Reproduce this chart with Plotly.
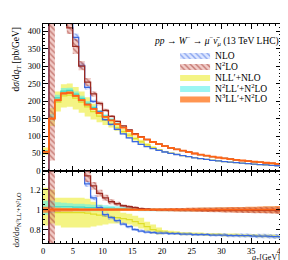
import plotly.graph_objects as go
from plotly.subplots import make_subplots

# ---------------- data (bins of 1 GeV in q_T) ----------------
QT_EDGES = list(range(0, 41))

# reference prediction N3LL'+N2LO, absolute [pb/GeV]
N3LL_N2LO = [55, 150, 203, 222, 224, 215, 203, 190, 178, 166, 155, 145, 134, 124, 114, 105, 97, 90, 83, 77,
             71, 66, 62, 58, 54, 50, 47, 44, 41, 38.5, 36, 34, 32, 30, 28, 26.5, 25, 23.5, 22, 20.5]
N3LL_N2LO_LO = [0.97, 0.975, 0.98, 0.982, 0.983, 0.984, 0.985, 0.985, 0.986, 0.986, 0.986, 0.986, 0.986, 0.986,
                0.986, 0.986, 0.986, 0.986, 0.986, 0.985, 0.985, 0.984, 0.983, 0.982, 0.981, 0.98, 0.979, 0.978,
                0.977, 0.976, 0.975, 0.974, 0.973, 0.972, 0.97, 0.969, 0.968, 0.966, 0.965, 0.963]
N3LL_N2LO_HI = [1.03, 1.025, 1.02, 1.018, 1.017, 1.016, 1.015, 1.015, 1.014, 1.014, 1.014, 1.014, 1.014, 1.014,
                1.014, 1.014, 1.014, 1.014, 1.014, 1.015, 1.015, 1.016, 1.017, 1.018, 1.019, 1.02, 1.021, 1.022,
                1.023, 1.024, 1.025, 1.026, 1.027, 1.028, 1.03, 1.031, 1.032, 1.034, 1.035, 1.037]

# other predictions, as ratio to N3LL'+N2LO
NLO_R = [-3.0, 6.0, 3.5, 2.4, 2.0, 1.78, 1.49, 1.26, 1.12, 1.02, 0.95, 0.92, 0.89, 0.855, 0.83, 0.80, 0.785,
         0.775, 0.77, 0.765, 0.765, 0.76, 0.76, 0.755, 0.755, 0.75, 0.75, 0.75, 0.745, 0.745, 0.745, 0.74, 0.74,
         0.74, 0.74, 0.735, 0.735, 0.735, 0.73, 0.73]
NLO_LO = [-3.5, 5.5, 3.3, 2.3, 1.93, 1.73, 1.45, 1.23, 1.095, 0.998, 0.93, 0.90, 0.872, 0.838, 0.813, 0.785,
          0.77, 0.76, 0.755, 0.75, 0.75, 0.745, 0.745, 0.74, 0.74, 0.735, 0.735, 0.735, 0.73, 0.73, 0.728, 0.724,
          0.722, 0.72, 0.72, 0.715, 0.713, 0.712, 0.707, 0.705]
NLO_HI = [-2.5, 6.5, 3.7, 2.5, 2.07, 1.83, 1.53, 1.29, 1.145, 1.042, 0.97, 0.94, 0.908, 0.872, 0.847, 0.815,
          0.80, 0.79, 0.785, 0.78, 0.78, 0.775, 0.775, 0.77, 0.77, 0.765, 0.765, 0.765, 0.76, 0.76, 0.762, 0.756,
          0.758, 0.76, 0.76, 0.755, 0.757, 0.758, 0.753, 0.755]

N2LO_R = [-2.0, 4.5, 3.4, 2.2, 1.83, 1.66, 1.48, 1.34, 1.24, 1.165, 1.12, 1.08, 1.06, 1.04, 1.03, 1.02, 1.01,
          1.005, 1.0, 1.0, 1.0, 1.0, 1.0, 1.0, 1.0, 1.0, 0.998, 0.998, 0.997, 0.997, 0.996, 0.996, 0.995, 0.995,
          0.995, 0.994, 0.994, 0.993, 0.993, 0.992]
N2LO_LO = [-2.5, 0.2, 3.0, 2.05, 1.75, 1.56, 1.42, 1.28, 1.20, 1.13, 1.09, 1.055, 1.04, 1.025, 1.015, 1.005,
           0.997, 0.992, 0.988, 0.987, 0.986, 0.985, 0.984, 0.983, 0.982, 0.981, 0.978, 0.977, 0.975, 0.974,
           0.972, 0.971, 0.969, 0.968, 0.967, 0.965, 0.964, 0.962, 0.961, 0.96]
N2LO_HI = [-1.5, 9.0, 3.8, 2.35, 1.92, 1.76, 1.55, 1.40, 1.28, 1.20, 1.15, 1.105, 1.08, 1.055, 1.045, 1.035,
           1.023, 1.018, 1.012, 1.013, 1.014, 1.015, 1.016, 1.017, 1.018, 1.019, 1.018, 1.019, 1.019, 1.02, 1.02,
           1.021, 1.021, 1.022, 1.023, 1.023, 1.024, 1.024, 1.025, 1.025]

NLL_NLO_R = [0.99, 1.0, 0.97, 0.97, 0.97, 0.97, 0.97, 0.965, 0.955, 0.945, 0.935, 0.93, 0.92, 0.91, 0.9, 0.88,
             0.86, 0.83, 0.8, 0.785, 0.775, 0.77, 0.765, 0.76, 0.76, 0.755, 0.755, 0.75, 0.75, 0.75, 0.745, 0.745,
             0.745, 0.74, 0.74, 0.74, 0.735, 0.735, 0.735, 0.73]
NLL_NLO_LO = [0.84, 0.86, 0.84, 0.82, 0.82, 0.82, 0.82, 0.82, 0.83, 0.84, 0.85, 0.86, 0.86, 0.86, 0.85, 0.83,
              0.81, 0.78, 0.76, 0.75, 0.755, 0.752, 0.748, 0.744, 0.744, 0.74, 0.74, 0.735, 0.735, 0.735, 0.73,
              0.73, 0.73, 0.725, 0.725, 0.725, 0.72, 0.72, 0.72, 0.715]
NLL_NLO_HI = [1.22, 1.2, 1.12, 1.12, 1.12, 1.12, 1.12, 1.11, 1.08, 1.05, 1.02, 1.0, 0.99, 0.97, 0.96, 0.94,
              0.92, 0.88, 0.85, 0.82, 0.795, 0.788, 0.782, 0.776, 0.776, 0.77, 0.77, 0.765, 0.765, 0.765, 0.76,
              0.76, 0.76, 0.755, 0.755, 0.755, 0.75, 0.75, 0.75, 0.745]

N2LL_N2LO_R = [1.02, 1.03, 1.03, 1.03, 1.03, 1.025, 1.025, 1.02, 1.02, 1.02, 1.015, 1.015, 1.01, 1.01, 1.01,
               1.005, 1.0, 1.0, 1.0, 1.0, 1.0, 1.0, 1.0, 1.0, 1.0, 1.0, 1.0, 1.0, 1.0, 1.0, 1.0, 1.0, 1.0, 1.0,
               1.0, 1.0, 1.0, 1.0, 1.0, 1.0]
N2LL_N2LO_LO = [0.95, 0.97, 0.98, 0.985, 0.985, 0.985, 0.985, 0.985, 0.985, 0.985, 0.985, 0.99, 0.99, 0.99,
                0.99, 0.99, 0.985, 0.985, 0.985, 0.985, 0.985, 0.985, 0.985, 0.983, 0.983, 0.982, 0.981, 0.98,
                0.98, 0.979, 0.978, 0.977, 0.976, 0.975, 0.974, 0.973, 0.972, 0.971, 0.97, 0.97]
N2LL_N2LO_HI = [1.09, 1.09, 1.075, 1.07, 1.065, 1.06, 1.06, 1.055, 1.05, 1.05, 1.045, 1.04, 1.035, 1.03, 1.025,
                1.02, 1.015, 1.015, 1.015, 1.015, 1.015, 1.015, 1.015, 1.017, 1.017, 1.018, 1.019, 1.02, 1.02,
                1.021, 1.022, 1.023, 1.024, 1.025, 1.026, 1.027, 1.028, 1.029, 1.03, 1.03]

Y_TOP_RANGE = [0, 421]
Y_RAT_RANGE = [0.665, 1.39]
X_RANGE = [0, 40]

FONT = "Liberation Serif"

# ---------------- figure ----------------
fig = make_subplots(rows=2, cols=1, shared_xaxes=True, vertical_spacing=0,
                    row_heights=[0.671, 0.329])


def step(vals):
    return QT_EDGES, list(vals) + [vals[-1]]


def ratio_series(r):
    return list(r)


def abs_series(r):
    return [a * b for a, b in zip(r, N3LL_N2LO)]


REF_RATIO = [v / v for v in N3LL_N2LO]

series = [
    dict(name="NLL′+NLO", r=NLL_NLO_R, lo=NLL_NLO_LO, hi=NLL_NLO_HI,
         fill=dict(fillcolor="rgba(242,242,110,0.85)"), line="#dede2a", lw=1.2, leg="legend3"),
    dict(name="N<sup>2</sup>LL′+N<sup>2</sup>LO", r=N2LL_N2LO_R, lo=N2LL_N2LO_LO, hi=N2LL_N2LO_HI,
         fill=dict(fillcolor="rgba(90,240,235,0.6)"), line="#3cd8c8", lw=1.2, leg="legend4"),
    dict(name="NLO", r=NLO_R, lo=NLO_LO, hi=NLO_HI,
         fill=dict(fillcolor="rgba(0,0,0,0)",
                   fillpattern=dict(shape="\\", fgcolor="#3a68e0", bgcolor="rgba(140,170,255,0.3)",
                                    size=4, solidity=0.35)),
         line="#3a68e0", lw=1.3, leg="legend"),
    dict(name="N<sup>3</sup>LL′+N<sup>2</sup>LO", r=REF_RATIO, lo=N3LL_N2LO_LO, hi=N3LL_N2LO_HI,
         fill=dict(fillcolor="rgba(255,130,50,0.85)"), line=None, lw=0, leg="legend5"),
    dict(name="N<sup>2</sup>LO", r=N2LO_R, lo=N2LO_LO, hi=N2LO_HI,
         fill=dict(fillcolor="rgba(0,0,0,0)",
                   fillpattern=dict(shape="\\", fgcolor="#9a2a22", bgcolor="rgba(225,140,130,0.45)",
                                    size=4, solidity=0.35)),
         line="#9a2a22", lw=1.3, leg="legend2"),
    dict(name="", r=REF_RATIO, lo=None, hi=None, fill=None, line="#ff6414", lw=1.8, leg=None),
]

for s in series:
    for row, conv in ((1, abs_series), (2, ratio_series)):
        if s["lo"] is not None:
            x, ylo = step(conv(s["lo"]))
            _, yhi = step(conv(s["hi"]))
            fig.add_trace(go.Scatter(x=x, y=ylo, mode="lines", line=dict(width=0, shape="hv"),
                                     showlegend=False, hoverinfo="skip"), row=row, col=1)
            fig.add_trace(go.Scatter(x=x, y=yhi, mode="lines", line=dict(width=0, shape="hv"),
                                     fill="tonexty", name=s["name"], legend=s["leg"],
                                     showlegend=(row == 1), hoverinfo="skip", **s["fill"]),
                          row=row, col=1)
        if s["line"] is not None:
            x, yc = step(conv(s["r"]))
            fig.add_trace(go.Scatter(x=x, y=yc, mode="lines",
                                     line=dict(width=s["lw"], color=s["line"], shape="hv"),
                                     showlegend=False, hoverinfo="skip"), row=row, col=1)

axis_common = dict(showline=True, linecolor="black", linewidth=0.8, mirror="ticks", ticks="inside",
                   ticklen=5, tickwidth=0.8, tickcolor="black", showgrid=False, zeroline=False,
                   tickfont=dict(family=FONT, size=8.5, color="black"))

fig.update_xaxes(range=X_RANGE, dtick=5, tick0=0,
                 minor=dict(dtick=1, ticks="inside", ticklen=2.5, tickcolor="black", tickwidth=0.6),
                 **axis_common)
fig.update_xaxes(showticklabels=False, row=1, col=1)
fig.update_yaxes(range=Y_TOP_RANGE, dtick=50, tick0=0,
                 minor=dict(dtick=10, ticks="inside", ticklen=2.5, tickcolor="black", tickwidth=0.6),
                 row=1, col=1, **axis_common)
fig.update_yaxes(range=Y_RAT_RANGE, dtick=0.2, tick0=0,
                 minor=dict(dtick=0.05, ticks="inside", ticklen=2.5, tickcolor="black", tickwidth=0.6),
                 row=2, col=1, **axis_common)

# one legend box per entry, so the entries can sit close together like the reference
LEG_X = 0.555
LEG_Y = {"legend": 0.858, "legend2": 0.808, "legend3": 0.758, "legend4": 0.708, "legend5": 0.66}
legend_layout = {k: dict(x=LEG_X, y=v, xanchor="left", yanchor="middle", bgcolor="rgba(0,0,0,0)",
                         font=dict(family=FONT, size=9.5), itemwidth=30)
                 for k, v in LEG_Y.items()}

fig.update_layout(
    width=288, height=260,
    margin=dict(l=35, r=11, t=16, b=25),
    paper_bgcolor="white", plot_bgcolor="white",
    font=dict(family=FONT, size=8.5, color="black"),
    showlegend=True,
    **legend_layout,
    annotations=[
        dict(text="<i>pp</i> → <i>W</i><sup>−</sup> → <i>μ</i><sup>−</sup><i>ν̄</i><sub><i>μ</i></sub> (13 TeV LHC)",
             xref="paper", yref="paper", x=0.998, y=0.925, xanchor="right", yanchor="middle",
             showarrow=False, font=dict(family=FONT, size=9.5)),
        dict(text="d<i>σ</i>/d<i>q</i><sub>T</sub> [pb/GeV]", textangle=-90,
             xref="paper", yref="paper", x=-0.112, y=0.995, xanchor="center", yanchor="top",
             showarrow=False, font=dict(family=FONT, size=9.5)),
        dict(text="d<i>σ</i>/d<i>σ</i><sub>N<sup>3</sup>LL′+N<sup>2</sup>LO</sub>", textangle=-90,
             xref="paper", yref="paper", x=-0.112, y=-0.03, xanchor="center", yanchor="bottom",
             showarrow=False, font=dict(family=FONT, size=9)),
        dict(text="<i>q</i><sub>T</sub>[GeV]",
             xref="paper", yref="paper", x=1.005, y=-0.1, xanchor="right", yanchor="bottom",
             showarrow=False, font=dict(family=FONT, size=8)),
    ],
)

fig.write_html("out.html")
